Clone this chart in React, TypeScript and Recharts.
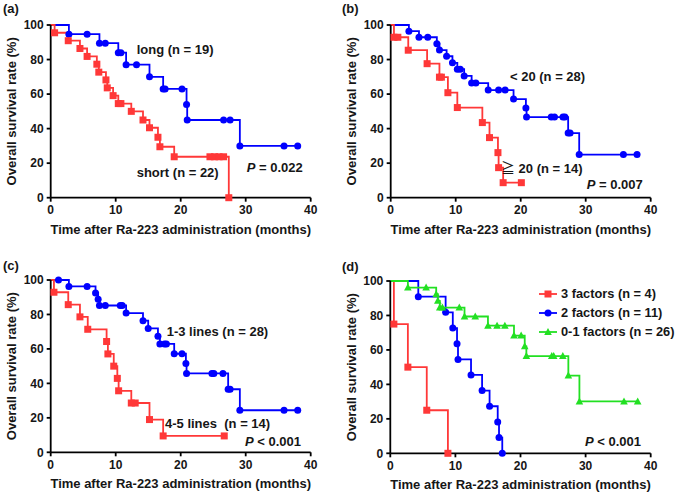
import React from "react";
import { LineChart, Line, XAxis, YAxis, Legend } from "recharts";

const FONT = '"Liberation Sans", Arial, Helvetica, sans-serif';
const CJK = '"Noto Sans CJK JP", "Noto Sans CJK SC", sans-serif';
const BLUE = "#0000ff";
const RED = "#ff3838";
const GREEN = "#22e022";
const INK = "#161616";

const xTicks = [0, 10, 20, 30, 40];
const yTicks = [0, 20, 40, 60, 80, 100];

// (a) long / short
const aLongTime = [0, 2.8, 5.6, 7.5, 8.4, 10.4, 10.8, 11.6, 13.2, 15.2, 17.3, 17.6, 20.2, 20.9, 21.0, 26.6, 27.6, 29.1, 35.9, 38.0];
const aLongSurv = [100, 94.7, 94.7, 89.5, 89.5, 84.0, 84.0, 77.0, 77.0, 70.0, 63.0, 63.0, 63.0, 54.0, 45.0, 45.0, 45.0, 30.0, 30.0, 30.0];
const aShortTime = [0, 0.6, 2.7, 4.5, 5.6, 7.1, 7.4, 8.5, 8.7, 9.6, 10.4, 10.8, 12.4, 14.2, 15.2, 16.5, 16.8, 19.0, 24.5, 25.2, 25.9, 26.6, 27.4];
const aShortSurv = [100, 95.5, 90.9, 86.4, 81.8, 77.3, 72.7, 68.2, 63.6, 59.1, 54.5, 54.5, 50.0, 45.0, 40.5, 35.0, 29.5, 23.7, 23.7, 23.7, 23.7, 23.7, 0];

// (b) < 20 / >= 20
const bLowTime = [0, 2.8, 4.35, 5.7, 7.1, 7.5, 8.6, 9.5, 10.25, 10.7, 11.3, 12.45, 13.1, 15.0, 16.6, 17.6, 18.9, 20.8, 20.9, 24.7, 25.2, 26.5, 26.8, 27.3, 27.6, 29.0, 35.8, 37.9];
const bLowSurv = [100, 96.4, 92.9, 92.9, 89.2, 85.5, 81.9, 78.1, 74.4, 74.4, 70.5, 66.4, 66.4, 62.3, 62.3, 62.3, 57.1, 51.9, 46.7, 46.7, 46.7, 46.7, 46.7, 37.4, 37.4, 25.0, 25.0, 25.0];
const bHighTime = [0, 0.5, 1.1, 2.7, 5.6, 7.5, 7.8, 8.8, 10.25, 14.1, 15.2, 16.5, 16.6, 17.3, 20.1];
const bHighSurv = [100, 92.9, 92.9, 85.4, 77.6, 69.8, 69.8, 60.8, 52.2, 43.5, 34.8, 26.1, 17.4, 8.7, 8.7];

// (c) 1-3 lines / 4-5 lines
const cFewTime = [0, 1.2, 2.8, 5.6, 6.9, 7.3, 7.5, 8.4, 10.7, 11.0, 11.6, 14.2, 15.0, 16.5, 16.8, 17.5, 17.8, 19.0, 20.2, 20.8, 20.9, 24.8, 25.1, 26.5, 27.3, 27.6, 29.1, 35.9, 38.0];
const cFewSurv = [100, 100, 96.3, 96.3, 92.5, 88.8, 85.2, 85.2, 85.2, 85.2, 80.8, 76.4, 71.9, 67.4, 62.9, 62.9, 62.9, 57.2, 57.2, 51.5, 45.8, 45.8, 45.8, 45.8, 36.6, 36.6, 24.4, 24.4, 24.4];
const cManyTime = [0, 0.5, 2.7, 4.5, 5.7, 8.6, 8.8, 9.7, 10.25, 10.45, 12.4, 13.0, 15.2, 17.3, 26.7];
const cManySurv = [100, 92.9, 85.7, 78.6, 71.4, 64.3, 57.1, 50.0, 42.9, 35.7, 28.6, 28.6, 19.0, 9.5, 9.5];

// (d) risk factors
const dThreeTime = [0, 0.55, 2.7, 5.6, 8.85];
const dThreeSurv = [100, 75, 50, 25, 0];
const dTwoTime = [0, 4.3, 8.5, 9.6, 10.25, 10.4, 12.4, 14.1, 15.25, 16.5, 16.7, 17.2];
const dTwoSurv = [100, 90.9, 81.8, 72.7, 63.6, 54.5, 45.5, 36.4, 27.3, 18.2, 9.1, 0];
const dLowTime = [0, 2.7, 5.5, 7.05, 7.3, 7.6, 8.0, 10.6, 11.4, 13.05, 15.0, 16.4, 17.6, 19.0, 20.1, 20.65, 20.9, 24.8, 25.1, 26.5, 27.35, 29.05, 35.9, 38.0];
const dLowSurv = [100, 96.2, 96.2, 92.3, 88.5, 84.6, 84.6, 84.6, 79.4, 79.4, 74.1, 74.1, 74.1, 68.3, 68.3, 62.1, 56.4, 56.4, 56.4, 56.4, 45.1, 30.1, 30.1, 30.1];

type Shape = "circle" | "square" | "triangle";

interface Series {
  name: string;
  time: number[];
  surv: number[];
  color: string;
  shape: Shape;
}

const toSteps = (time: number[], surv: number[]) =>
  time.map((t, i) => ({ time: t, surv: surv[i] }));

const Marker = ({ shape, cx, cy, color }: { shape: Shape; cx: number; cy: number; color: string }) => {
  if (shape === "circle") return <circle cx={cx} cy={cy} r={3.5} fill={color} />;
  if (shape === "square")
    return <rect x={cx - 3.5} y={cy - 3.5} width={7} height={7} fill={color} />;
  return (
    <polygon
      points={`${cx},${cy - 4} ${cx - 3.8},${cy + 3} ${cx + 3.8},${cy + 3}`}
      fill={color}
    />
  );
};

const makeDot = (shape: Shape, color: string) => (props: any) => {
  const { cx, cy, index } = props;
  if (index === 0 || cx == null || cy == null) return <g key={`d-${index}`} />;
  return (
    <g key={`d-${index}`}>
      <Marker shape={shape} cx={cx} cy={cy} color={color} />
    </g>
  );
};

const tickStyle = { fill: INK, fontSize: 12, fontWeight: 700, fontFamily: FONT };

interface PanelProps {
  left: number;
  top: number;
  plotLeft: number;
  plotTop: number;
  plotRight: number;
  plotBottom: number;
  series: Series[];
  legend?: boolean;
}

const W = 340;
const H = 250;
const XH = 40;

const Panel = ({ left, top, plotLeft, plotTop, plotRight, plotBottom, series, legend }: PanelProps) => {
  const renderLegend = (props: any) => {
    const items = [...(props.payload || [])].sort(
      (p: any, q: any) =>
        series.findIndex((s) => s.name === p.value) - series.findIndex((s) => s.name === q.value)
    );
    return (
      <div style={{ fontFamily: FONT, fontWeight: 700, fontSize: 12.8, color: INK }}>
        {items.map((entry: any) => {
          const s = series.find((x) => x.name === entry.value) as Series;
          return (
            <div key={entry.value} style={{ display: "flex", alignItems: "center", height: 19 }}>
              <svg width={18} height={10} style={{ marginRight: 4 }}>
                <line x1={0} y1={5} x2={18} y2={5} stroke={s.color} strokeWidth={1.8} />
                <Marker shape={s.shape} cx={9} cy={5} color={s.color} />
              </svg>
              <span style={{ whiteSpace: "nowrap" }}>{entry.value}</span>
            </div>
          );
        })}
      </div>
    );
  };

  return (
    <div style={{ position: "absolute", left, top, width: W, height: H }}>
      <LineChart
        width={W}
        height={H}
        margin={{ top: plotTop, right: W - plotRight, left: 0, bottom: H - plotBottom - XH }}
      >
        <XAxis
          type="number"
          dataKey="time"
          domain={[0, 40]}
          ticks={xTicks}
          height={XH}
          stroke="#000"
          strokeWidth={1.8}
          tickSize={4}
          tickMargin={4}
          tick={tickStyle}
          label={{
            value: "Time after Ra-223 administration (months)",
            position: "insideBottom",
            offset: 4,
            fill: INK,
            fontSize: 13,
            fontWeight: 700,
            fontFamily: FONT,
          }}
        />
        <YAxis
          type="number"
          domain={[0, 100]}
          ticks={yTicks}
          width={plotLeft}
          stroke="#000"
          strokeWidth={1.8}
          tickSize={4}
          tickMargin={3}
          tick={tickStyle}
          label={{
            value: "Overall survival rate (%)",
            angle: -90,
            position: "insideLeft",
            offset: 11,
            fill: INK,
            fontSize: 13,
            fontWeight: 700,
            fontFamily: FONT,
            style: { textAnchor: "middle" },
          }}
        />
        {series.map((s) => (
          <Line
            key={s.name}
            name={s.name}
            data={toSteps(s.time, s.surv)}
            dataKey="surv"
            type="stepAfter"
            stroke={s.color}
            strokeWidth={1.8}
            dot={makeDot(s.shape, s.color)}
            activeDot={false}
            isAnimationActive={false}
          />
        ))}
        {legend && (
          <Legend
            layout="vertical"
            align="center"
            verticalAlign="middle"
            wrapperStyle={{ left: 199, top: 34, width: "auto" }}
            content={renderLegend}
          />
        )}
      </LineChart>
    </div>
  );
};

const Note = ({ x, y, children }: { x: number; y: number; children: React.ReactNode }) => (
  <div
    style={{
      position: "absolute",
      left: x,
      top: y,
      transform: "translateY(-50%)",
      fontFamily: FONT,
      fontWeight: 700,
      fontSize: 13,
      lineHeight: 1,
      color: INK,
      whiteSpace: "pre",
    }}
  >
    {children}
  </div>
);

export default function App() {
  return (
    <div
      style={{
        position: "absolute",
        left: 0,
        top: 0,
        width: 685,
        height: 497,
        background: "#fff",
        overflow: "hidden",
      }}
    >
      <Panel
        left={0}
        top={0}
        plotLeft={50.7}
        plotTop={25}
        plotRight={310.7}
        plotBottom={197.7}
        series={[
          { name: "long", time: aLongTime, surv: aLongSurv, color: BLUE, shape: "circle" },
          { name: "short", time: aShortTime, surv: aShortSurv, color: RED, shape: "square" },
        ]}
      />
      <Panel
        left={340}
        top={0}
        plotLeft={50.7}
        plotTop={25}
        plotRight={310.7}
        plotBottom={197.7}
        series={[
          { name: "< 20", time: bLowTime, surv: bLowSurv, color: BLUE, shape: "circle" },
          { name: "≧ 20", time: bHighTime, surv: bHighSurv, color: RED, shape: "square" },
        ]}
      />
      <Panel
        left={0}
        top={250}
        plotLeft={50.7}
        plotTop={30}
        plotRight={310.7}
        plotBottom={202.3}
        series={[
          { name: "1-3 lines", time: cFewTime, surv: cFewSurv, color: BLUE, shape: "circle" },
          { name: "4-5 lines", time: cManyTime, surv: cManySurv, color: RED, shape: "square" },
        ]}
      />
      <Panel
        left={340}
        top={250}
        plotLeft={50.3}
        plotTop={31}
        plotRight={310.7}
        plotBottom={203.3}
        legend
        series={[
          { name: "3 factors (n = 4)", time: dThreeTime, surv: dThreeSurv, color: RED, shape: "square" },
          { name: "2 factors (n = 11)", time: dTwoTime, surv: dTwoSurv, color: BLUE, shape: "circle" },
          { name: "0-1 factors (n = 26)", time: dLowTime, surv: dLowSurv, color: GREEN, shape: "triangle" },
        ]}
      />

      <Note x={3} y={8}>(a)</Note>
      <Note x={342} y={8}>(b)</Note>
      <Note x={3} y={265}>(c)</Note>
      <Note x={342} y={266}>(d)</Note>

      <Note x={136.7} y={49.3}>long (n = 19)</Note>
      <Note x={136.7} y={171.7}>short (n = 22)</Note>
      <Note x={246.7} y={166.7}><i>P</i> = 0.022</Note>

      <Note x={510} y={76}>{"< 20 (n = 28)"}</Note>
      <Note x={501} y={166.7}>
        <span style={{ fontFamily: CJK, fontSize: 14, fontWeight: 400 }}>≧</span> 20 (n = 14)
      </Note>
      <Note x={586.7} y={184.3}><i>P</i> = 0.007</Note>

      <Note x={166.7} y={330.7}>1-3 lines (n = 28)</Note>
      <Note x={165} y={422.7}>4-5 lines  (n = 14)</Note>
      <Note x={245} y={441}><i>P</i> {"<"} 0.001</Note>

      <Note x={585} y={441}><i>P</i> {"<"} 0.001</Note>
    </div>
  );
}
